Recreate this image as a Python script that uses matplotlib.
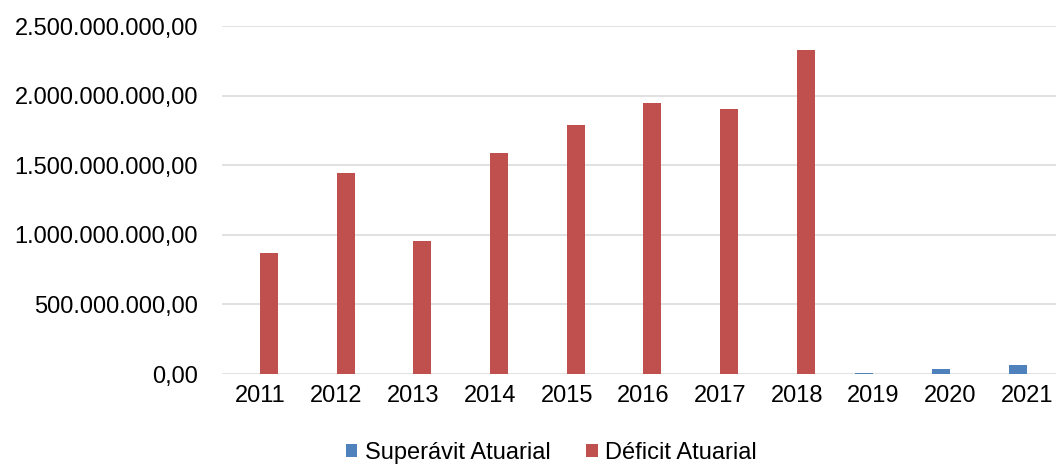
import matplotlib
matplotlib.use("Agg")
import matplotlib.pyplot as plt
from matplotlib.ticker import FuncFormatter, MultipleLocator
import numpy as np

years = ["2011", "2012", "2013", "2014", "2015", "2016", "2017", "2018", "2019", "2020", "2021"]
superavit = [0, 0, 0, 0, 0, 0, 0, 0, 10e6, 34e6, 66e6]
deficit = [867e6, 1442e6, 955e6, 1585e6, 1789e6, 1949e6, 1903e6, 2327e6, 0, 0, 0]

plt.rcParams['font.family'] = ['Liberation Sans', 'DejaVu Sans']

fig = plt.figure(figsize=(10.56, 4.66), dpi=100)
ax = fig.add_axes([221.6/1056, 92/466, 843.4/1056, 348/466])

x = np.arange(len(years))
w = 0.235
ax.bar(x - w/2, superavit, w, color='#4F81BD', label='Superávit Atuarial', zorder=3)
ax.bar(x + w/2, deficit, w, color='#C0504D', label='Déficit Atuarial', zorder=3)

ax.set_xlim(-0.5, len(years) - 0.5)
ax.set_ylim(0, 2.5e9)
ax.yaxis.set_major_locator(MultipleLocator(5e8))

def br(v, pos):
    s = f"{v:,.2f}"
    return s.replace(",", "X").replace(".", ",").replace("X", ".")
ax.yaxis.set_major_formatter(FuncFormatter(br))

ax.set_xticks(x)
ax.set_xticklabels(years)
ax.tick_params(axis='both', length=0, labelsize=17, colors='black')
ax.tick_params(axis='y', pad=17)
ax.tick_params(axis='x', pad=8)

ax.grid(axis='y', color='#D9D9D9', linewidth=1.1, zorder=0)
for s in ax.spines.values():
    s.set_visible(False)

fig.legend(loc='center', bbox_to_anchor=(551/1056, 13/466), ncol=2, frameon=False,
           fontsize=17, handlelength=0.5, handleheight=0.5, handletextpad=0.3,
           columnspacing=1.5)

fig.savefig("out.png", dpi=100)
